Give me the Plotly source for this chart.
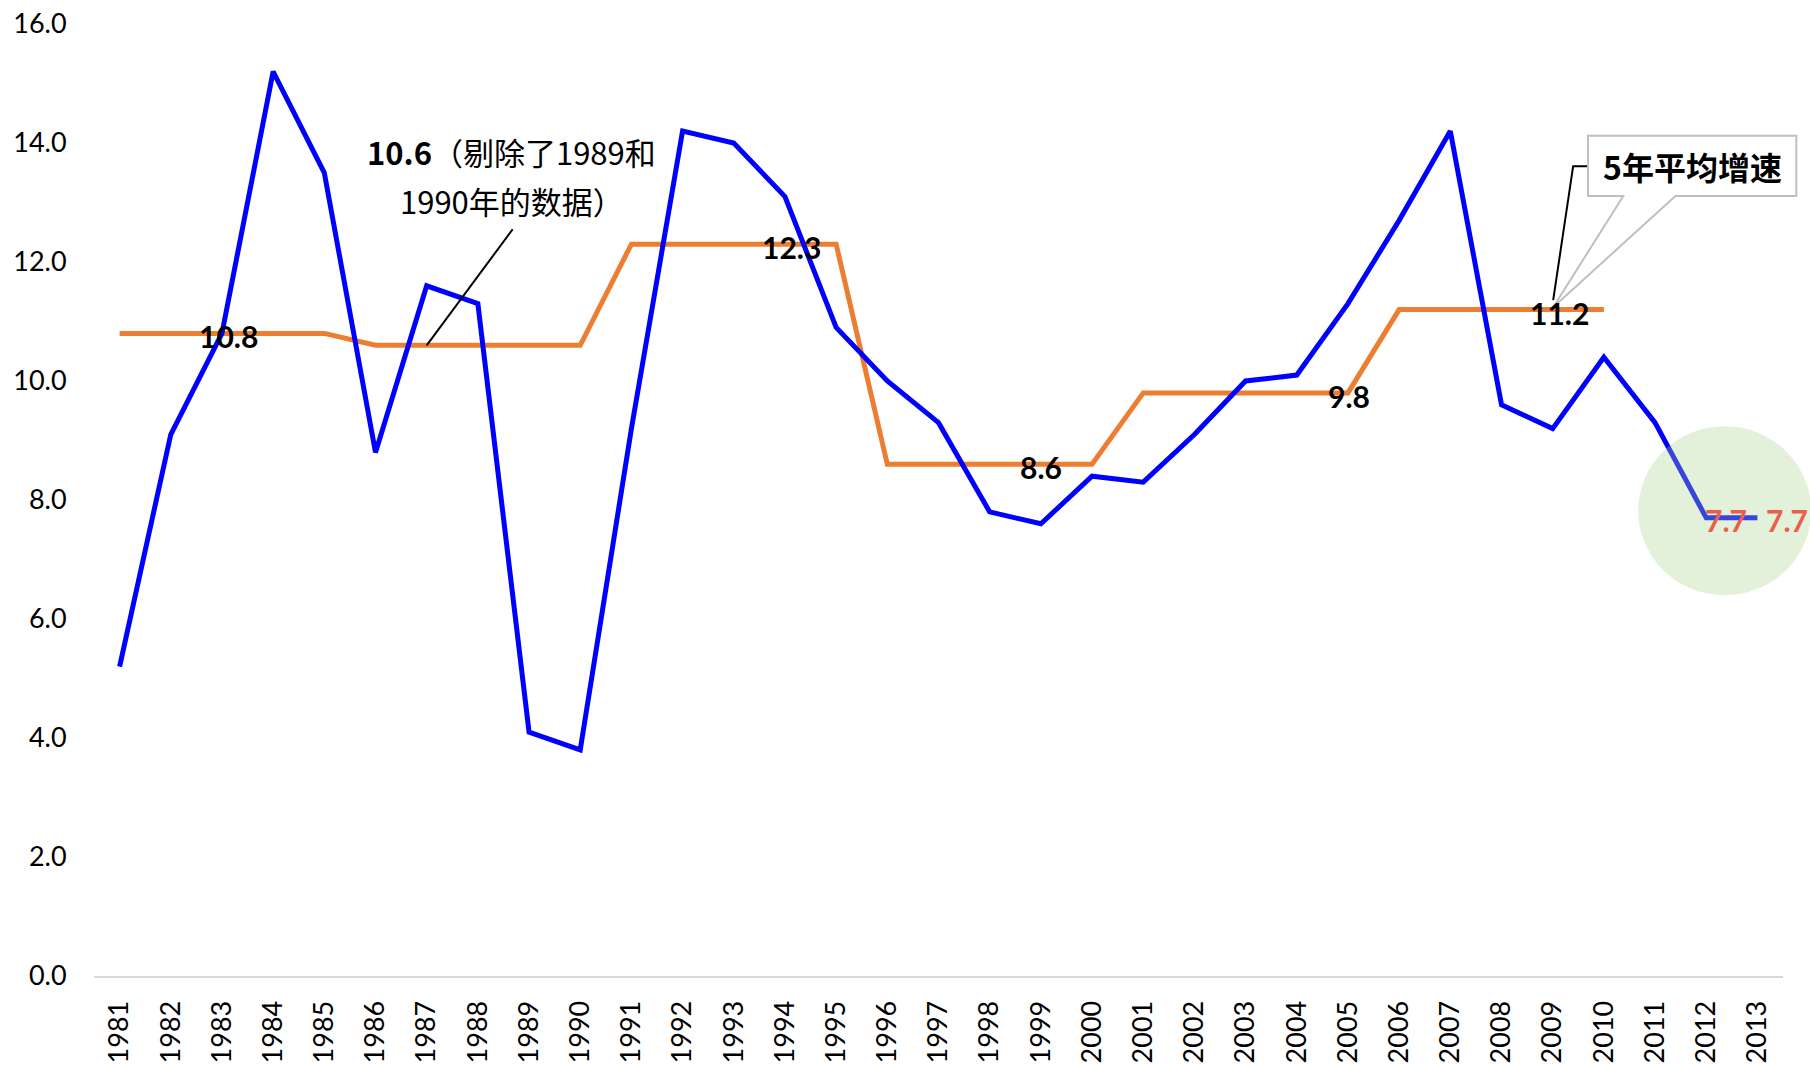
import plotly.graph_objects as go

# ---------------- data ----------------
years = [1981, 1982, 1983, 1984, 1985, 1986, 1987, 1988, 1989, 1990,
         1991, 1992, 1993, 1994, 1995, 1996, 1997, 1998, 1999, 2000,
         2001, 2002, 2003, 2004, 2005, 2006, 2007, 2008, 2009, 2010,
         2011, 2012, 2013]
gdp_growth = [5.2, 9.1, 10.8, 15.2, 13.5, 8.8, 11.6, 11.3, 4.1, 3.8,
              9.2, 14.2, 14.0, 13.1, 10.9, 10.0, 9.3, 7.8, 7.6, 8.4,
              8.3, 9.1, 10.0, 10.1, 11.3, 12.7, 14.2, 9.6, 9.2, 10.4,
              9.3, 7.7, 7.7]
avg_years = [1981, 1982, 1983, 1984, 1985, 1986, 1987, 1988, 1989, 1990,
             1991, 1992, 1993, 1994, 1995, 1996, 1997, 1998, 1999, 2000,
             2001, 2002, 2003, 2004, 2005, 2006, 2007, 2008, 2009, 2010]
avg5 = [10.8, 10.8, 10.8, 10.8, 10.8, 10.6, 10.6, 10.6, 10.6, 10.6,
        12.3, 12.3, 12.3, 12.3, 12.3, 8.6, 8.6, 8.6, 8.6, 8.6,
        9.8, 9.8, 9.8, 9.8, 9.8, 11.2, 11.2, 11.2, 11.2, 11.2]
avg_label_years = [1983, 1994, 1999, 2005, 2009]
last_label_years = [2012, 2013]
y_ticks = [0, 2, 4, 6, 8, 10, 12, 14, 16]

X_MIN, X_MAX = 1980.5, 2013.5
Y_MIN, Y_MAX = 0, 16


def xp(x):
    return (x - X_MIN) / (X_MAX - X_MIN)


def yp(y):
    return (y - Y_MIN) / (Y_MAX - Y_MIN)


NUM_FONT = "Lato"
CJK_FONT = "Noto Sans CJK SC"

fig = go.Figure()
fig.add_trace(go.Scatter(x=avg_years, y=avg5, mode="lines",
                         line=dict(color="#ED7D31", width=5), hoverinfo="skip"))
fig.add_trace(go.Scatter(x=years, y=gdp_growth, mode="lines",
                         line=dict(color="#0000FF", width=5), hoverinfo="skip"))

annotations = []
label_xshift = [7, 7, 0, 1, 7]
for yr, xs in zip(avg_label_years, label_xshift):
    v = avg5[avg_years.index(yr)]
    annotations.append(dict(x=yr, y=v, text=f"<b>{v:.1f}</b>", showarrow=False,
                            xanchor="center", yanchor="middle", xshift=xs, yshift=-3,
                            font=dict(family=NUM_FONT, size=30, color="#000000")))

# red labels for the last two points
for yr, xs in zip(last_label_years, [-3, 7]):
    v = gdp_growth[years.index(yr)]
    annotations.append(dict(x=yr, y=v, text=f"<b>{v:.1f}</b>", showarrow=False,
                            xanchor="left", yanchor="middle", xshift=xs, yshift=-2,
                            font=dict(family=NUM_FONT, size=30, color="#E8604C")))

# callout for 10.6
annotations.append(dict(x=1988.66, y=13.85, text="<b>10.6</b>（剔除了1989和", showarrow=False,
                        xanchor="center", yanchor="middle",
                        font=dict(family=CJK_FONT, size=31, color="#000000")))
annotations.append(dict(x=1988.66, y=13.04, text="1990年的数据）", showarrow=False,
                        xanchor="center", yanchor="middle",
                        font=dict(family=CJK_FONT, size=31, color="#000000")))
# callout box text
annotations.append(dict(x=2011.73, y=13.61, text="<b>5年平均增速</b>", showarrow=False,
                        xanchor="center", yanchor="middle",
                        font=dict(family=CJK_FONT, size=32, color="#000000")))

shapes = []
# leader line for 10.6 label
shapes.append(dict(type="line", xref="x", yref="y", x0=1987, y0=10.6, x1=1988.68, y1=12.55,
                   line=dict(color="#000000", width=2), layer="above"))
# callout box with wedge
bx0, bx1, by0, by1 = 2009.69, 2013.76, 13.11, 14.12
wl, wr, tipx, tipy = 2010.38, 2011.40, 2009.01, 11.24
path = (f"M {xp(bx0)} {yp(by1)} L {xp(bx1)} {yp(by1)} L {xp(bx1)} {yp(by0)} "
        f"L {xp(wr)} {yp(by0)} L {xp(tipx)} {yp(tipy)} L {xp(wl)} {yp(by0)} "
        f"L {xp(bx0)} {yp(by0)} Z")
shapes.append(dict(type="path", xref="paper", yref="paper", path=path,
                   fillcolor="rgba(255,255,255,0)", line=dict(color="#BFBFBF", width=2), layer="above"))
path2 = (f"M {xp(2009.67)} {yp(13.61)} L {xp(2009.40)} {yp(13.61)} L {xp(2009.01)} {yp(11.36)}")
shapes.append(dict(type="path", xref="paper", yref="paper", path=path2,
                   line=dict(color="#000000", width=2), layer="above"))
# highlight circle
shapes.append(dict(type="circle", xref="paper", yref="paper",
                   x0=xp(2010.67), x1=xp(2014.05), y0=yp(6.40), y1=yp(9.24),
                   fillcolor="rgba(169,209,142,0.33)", line=dict(width=0), layer="above"))

fig.update_layout(
    width=1810, height=1065,
    margin=dict(l=94, r=27, t=24, b=89, pad=0),
    paper_bgcolor="white", plot_bgcolor="white",
    showlegend=False,
    annotations=annotations,
    shapes=shapes,
    xaxis=dict(range=[X_MIN, X_MAX], tickmode="array", tickvals=years,
               ticktext=[str(y) for y in years], tickangle=-90, automargin=False,
               showgrid=False, zeroline=False, showline=True,
               linecolor="#D9D9D9", linewidth=2,
               ticks="outside", ticklen=12, tickcolor="rgba(0,0,0,0)",
               tickfont=dict(family=NUM_FONT, size=27, color="#000000")),
    yaxis=dict(range=[Y_MIN, Y_MAX], tickmode="array", tickvals=y_ticks,
               ticktext=[f"{v:.1f}" for v in y_ticks], automargin=False,
               showgrid=False, zeroline=False, showline=False,
               ticks="outside", ticklen=21, tickcolor="rgba(0,0,0,0)",
               tickfont=dict(family=NUM_FONT, size=27, color="#000000")),
)

fig.write_html("out.html", config={"displayModeBar": False},
               post_script="document.body.style.margin='0';")
